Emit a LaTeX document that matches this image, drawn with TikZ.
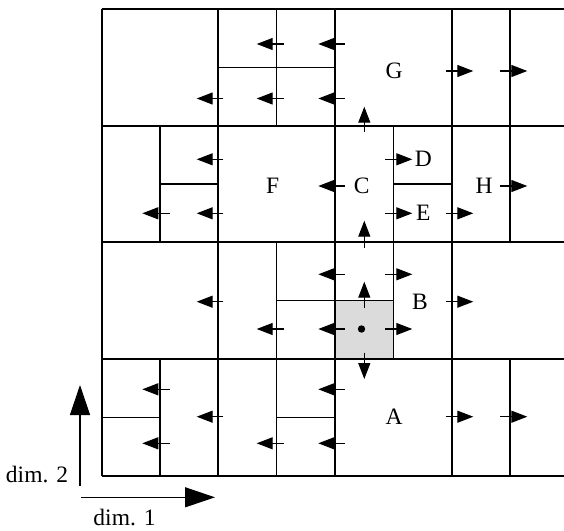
\documentclass[tikz,border=0pt]{standalone}
\usepackage{fontspec}
\setmainfont{Liberation Serif}
\usetikzlibrary{arrows.meta}
\tikzset{
  major/.style={line width=2pt},
  minor/.style={line width=1.4pt},
  arr/.style={line width=1.2pt,-{Triangle[length=16pt,width=12pt]}},
  axis/.style={line width=1.2pt,-{Triangle[length=30pt,width=20pt]}},
  lbl/.style={font=\fontsize{23.5}{26}\selectfont,inner sep=0pt},
}
\newcommand\harr[3]{\draw[arr] (#1,#3) -- (#2,#3);}
\newcommand\varr[3]{\draw[arr] (#3,#1) -- (#3,#2);}
\begin{document}
\begin{tikzpicture}[x=1pt,y=-1pt]
\useasboundingbox (0,0) rectangle (564,530);
\begin{scope}
\clip (0,0) rectangle (564,530);
% gray cell
\fill[gray!28] (335,300.7) rectangle (393.3,359.1);
% minor lines
\draw[minor] (276.7,9) -- (276.7,125.7);
\draw[minor] (218.3,67.3) -- (335,67.3);
\draw[minor] (510,9) -- (510,242.4);
\draw[minor] (160,125.7) -- (160,242.4);
\draw[minor] (160,184) -- (218.3,184);
\draw[minor] (393.3,125.7) -- (393.3,359.1);
\draw[minor] (393.3,184) -- (451.7,184);
\draw[minor] (276.7,242.4) -- (276.7,359.1);
\draw[minor] (276.7,300.7) -- (393.3,300.7);
\draw[minor] (160,359.1) -- (160,475.8);
\draw[minor] (101.7,417.4) -- (160,417.4);
\draw[minor] (276.7,359.1) -- (276.7,475.8);
\draw[minor] (276.7,417.4) -- (335,417.4);
\draw[minor] (510,359.1) -- (510,475.8);
% major lines
\foreach \xx in {101.7,218.3,335,451.7,568.3} \draw[major] (\xx,9) -- (\xx,475.8);
\foreach \yy in {9,125.7,242.4,359.1,475.8} \draw[major] (101.7,\yy) -- (570,\yy);
\end{scope}
% row 0 arrows
\harr{284.3}{256.7}{44}
\harr{345}{318.3}{44}
\harr{223.3}{196.7}{98.5}
\harr{284.3}{256.7}{98.5}
\harr{345}{318.3}{98.5}
\harr{446}{473.3}{71}
\harr{500}{527.3}{71}
\varr{131.7}{106.7}{364.3}
% row 1 arrows
\harr{223.3}{196.7}{159.3}
\harr{170}{142.3}{213.3}
\harr{223.3}{196.7}{213.3}
\harr{345}{318.3}{186}
\harr{385}{412.3}{159.3}
\harr{385}{412.3}{213.3}
\harr{446}{473.3}{213.3}
\harr{500}{527.3}{186}
\varr{248}{220.7}{364.3}
% row 2 arrows
\harr{345}{318.3}{274.3}
\harr{385}{412.3}{274.3}
\harr{223.3}{196.7}{301.7}
\harr{446}{473.3}{301.7}
\varr{308.3}{281.7}{364.3}
\harr{284.3}{256.7}{329}
\harr{345}{318.3}{329}
\harr{385}{412.3}{329}
\varr{352.7}{379}{364.3}
\fill (361.5,329) circle (3.7);
% row 3 arrows
\harr{170}{142.3}{389.3}
\harr{345}{318.3}{389.3}
\harr{223.3}{196.7}{416.7}
\harr{446}{473.3}{416.7}
\harr{500}{527.3}{416.7}
\harr{170}{142.3}{443.3}
\harr{284.3}{256.7}{443.3}
\harr{345}{318.3}{443.3}
% labels
\node[lbl] (G) at (394,71) {G};
\node[lbl] (F) at (272.7,186) {F};
\node[lbl] (C) at (361.7,186) {C};
\node[lbl] (D) at (423.3,159.3) {D};
\node[lbl] (E) at (423.3,213.3) {E};
\node[lbl] (H) at (484,186) {H};
\node[lbl] (B) at (420,301.7) {B};
\node[lbl] (A) at (394,416.5) {A};
% axes
\coordinate (o2) at (80,486);
\coordinate (t2) at (80,385);
\coordinate (o1) at (81,497.3);
\coordinate (t1) at (215,497.3);
\draw[axis] (o2) -- (t2);
\draw[axis] (o1) -- (t1);
\node[lbl] (d2) at (37,474.5) {dim. 2};
\node[lbl] (d1) at (124.5,517.5) {dim. 1};
\end{tikzpicture}
\end{document}
